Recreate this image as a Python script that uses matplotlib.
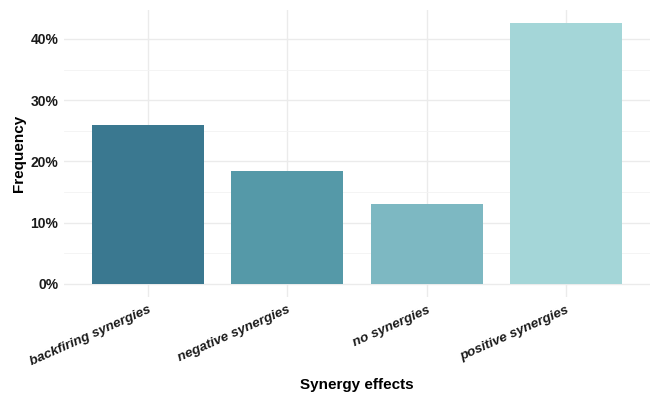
import matplotlib
matplotlib.use("Agg")
import matplotlib.pyplot as plt
from matplotlib.ticker import PercentFormatter, MultipleLocator

plt.rcParams['font.family'] = ['Liberation Sans', 'DejaVu Sans']

# Data
categories = ["backfiring synergies", "negative synergies", "no synergies", "positive synergies"]
frequency = [0.259, 0.185, 0.130, 0.426]
bar_colors = ["#3A7890", "#5599A8", "#7DB8C2", "#A4D6D8"]

fig = plt.figure(figsize=(6.5, 3.94), dpi=100)
ax = fig.add_axes([0.0985, 0.2462, 0.9015, 0.7284])

x = range(len(categories))
ax.bar(x, frequency, width=0.8, color=bar_colors, zorder=3)

# ggplot-like expansion
ax.set_xlim(-0.6, len(categories) - 0.4)
top = max(frequency)
ax.set_ylim(-0.05 * top, 1.05 * top)

ax.yaxis.set_major_locator(MultipleLocator(0.1))
ax.yaxis.set_minor_locator(MultipleLocator(0.05))
ax.yaxis.set_major_formatter(PercentFormatter(1.0, decimals=0))

ax.grid(which="major", color="#EBEBEB", linewidth=1.0, zorder=0)
ax.grid(which="minor", axis="y", color="#F3F3F3", linewidth=0.6, zorder=0)

for s in ax.spines.values():
    s.set_visible(False)
ax.tick_params(which="both", length=0)
ax.tick_params(axis="y", pad=4)
ax.tick_params(axis="x", pad=5)

ax.set_xticks(list(x))
ax.set_xticklabels(categories, rotation=24, ha="right", rotation_mode="anchor",
                   fontsize=9.7, fontweight="bold", fontstyle="italic", color="#1A1A1A")
for lab in ax.get_yticklabels():
    lab.set_fontsize(10)
    lab.set_fontweight("bold")
    lab.set_color("#1A1A1A")

ax.set_xlabel("Synergy effects", fontsize=11, fontweight="bold", labelpad=7)
ax.set_ylabel("Frequency", fontsize=11, fontweight="bold", labelpad=3)

fig.savefig("out.png", dpi=100)
